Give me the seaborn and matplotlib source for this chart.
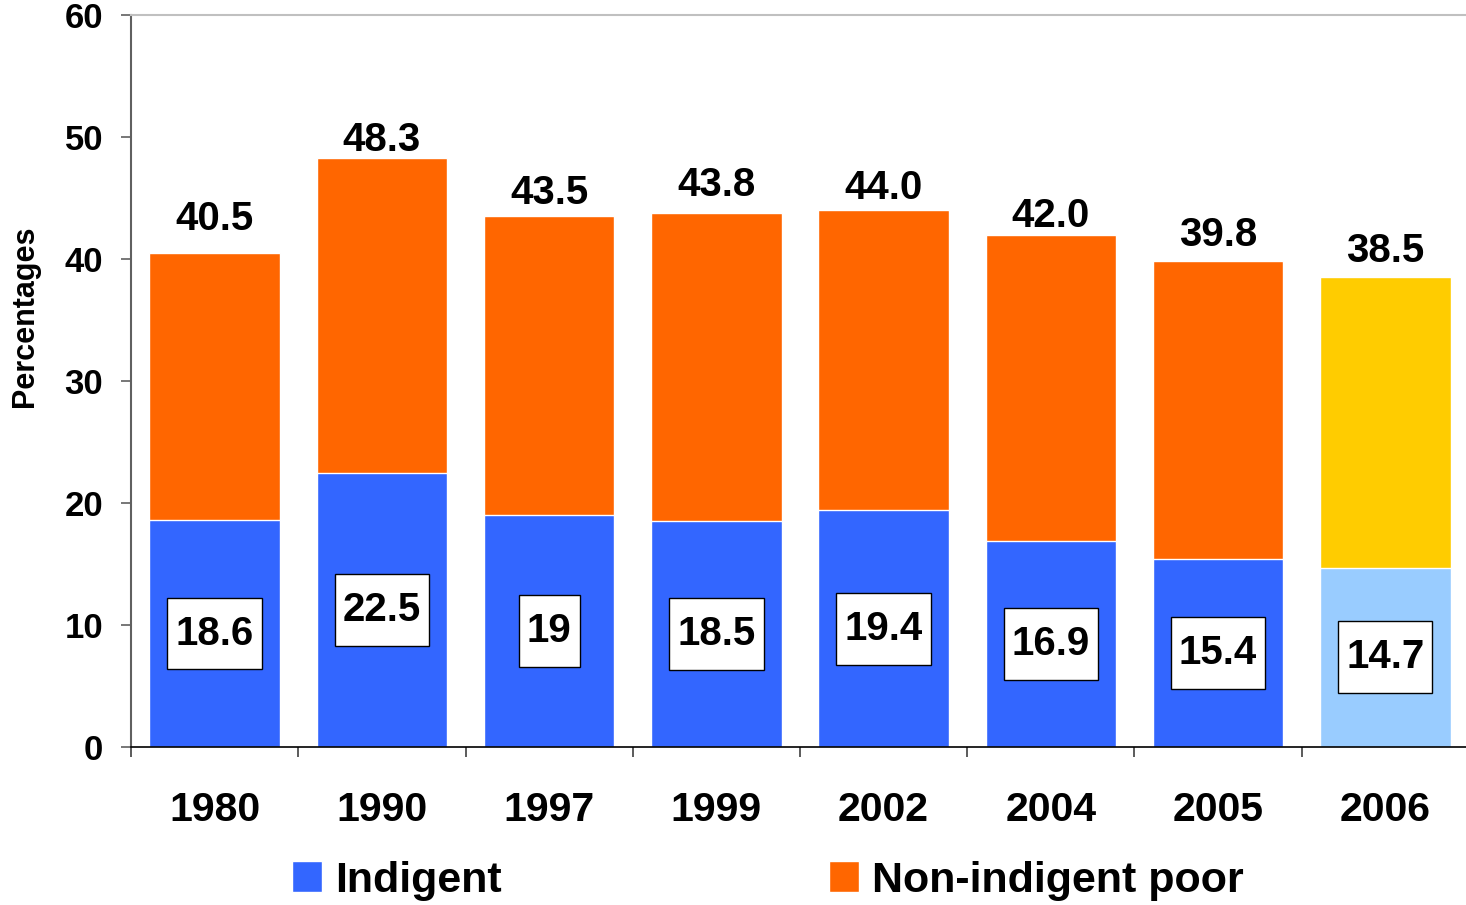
import numpy as np
import pandas as pd
import matplotlib.pyplot as plt
import seaborn as sns
from matplotlib.patches import Patch
from matplotlib.path import Path

years = ['1980', '1990', '1997', '1999', '2002', '2004', '2005', '2006']
total_poor = [40.5, 48.3, 43.5, 43.8, 44.0, 42.0, 39.8, 38.5]
indigent = [18.6, 22.5, 19.0, 18.5, 19.4, 16.9, 15.4, 14.7]
indigent_labels = ['18.6', '22.5', '19', '18.5', '19.4', '16.9', '15.4', '14.7']

# how far each total label sits above its bar (points)
total_label_offsets = [24.5, 13, 16.5, 20, 16, 13.5, 18.7, 18.7]

blue = '#3366FF'
orange = '#FF6600'
light_blue = '#99CCFF'
yellow = '#FFCC00'
top_colors = [orange] * 7 + [yellow]
bottom_colors = [blue] * 7 + [light_blue]

df = pd.DataFrame({'year': years, 'total': total_poor, 'indigent': indigent})

sns.set_style('white')
plt.rcParams['font.family'] = ['Liberation Sans', 'DejaVu Sans']
plt.rcParams['font.weight'] = 'bold'
plt.rcParams.update({'text.color': 'black', 'axes.labelcolor': 'black',
                     'xtick.labelcolor': 'black', 'ytick.labelcolor': 'black'})


def label_box(x0, y0, width, height, mutation_size):
    # white value box: narrow side padding, taller top/bottom padding
    padx = 0.2 * mutation_size
    pady = 0.42 * mutation_size
    x1, y1 = x0 + width + padx, y0 + height + pady
    x0, y0 = x0 - padx, y0 - pady
    return Path([(x0, y0), (x1, y0), (x1, y1), (x0, y1), (x0, y0)], closed=True)


fig = plt.figure(figsize=(14.66, 9.05), dpi=100)
ax = fig.add_axes([0.0894, 0.1746, 0.9126, 0.8088])

# totals first (orange part shows above), indigent drawn on top
sns.barplot(data=df, x='year', y='total', hue='year', palette=top_colors,
            width=0.78, legend=False, saturation=1, ax=ax, dodge=False)
sns.barplot(data=df, x='year', y='indigent', hue='year', palette=bottom_colors,
            width=0.78, legend=False, saturation=1, ax=ax, dodge=False)

for i, (t, ind, lab) in enumerate(zip(total_poor, indigent, indigent_labels)):
    ax.annotate('{:.1f}'.format(t), (i, t), xytext=(0, total_label_offsets[i]), textcoords='offset points',
                ha='center', va='center', fontsize=29, fontweight='bold')
    ax.text(i, ind / 2, lab, ha='center', va='center', fontsize=29, fontweight='bold',
            bbox=dict(boxstyle=label_box, facecolor='white', edgecolor='black', linewidth=1))

ax.set_ylim(0, 60)
ax.set_xlim(-0.5, 7.5)
ax.set_yticks(range(0, 61, 10))
ax.set_yticklabels([str(v) for v in range(0, 61, 10)], fontsize=25, fontweight='bold')
ax.tick_params(axis='y', left=True, length=7, width=1.2, color='#606060', pad=13)
ax.set_xticks(range(len(years)))
ax.set_xticklabels(years, fontsize=29.5, fontweight='bold')
ax.set_xticks(np.arange(-0.5, 8, 1), minor=True)
ax.tick_params(axis='x', which='major', length=0, pad=32)
ax.tick_params(axis='x', which='minor', bottom=True, length=7, width=1.2, color='#404040')
ax.set_xlabel('')
ax.set_ylabel('Percentages', fontsize=22, fontweight='bold')
ax.yaxis.set_label_coords(-0.068, 0.589)

for s in ['left', 'bottom', 'top']:
    ax.spines[s].set_visible(True)
ax.spines['left'].set_color('#606060')
ax.spines['left'].set_linewidth(1.5)
ax.spines['bottom'].set_color('black')
ax.spines['bottom'].set_linewidth(1.2)
ax.spines['top'].set_color('#C0C0C0')
ax.spines['top'].set_linewidth(1.5)
ax.spines['right'].set_visible(False)

handles = [Patch(facecolor=blue), Patch(facecolor=orange)]
fig.legend(handles, ['Indigent', 'Non-indigent poor'], loc='center', bbox_to_anchor=(0.524, 0.027),
           ncol=2, frameon=False, prop={'size': 31, 'weight': 'bold'},
           handlelength=0.7, handleheight=0.7, columnspacing=7.6, handletextpad=0.3)

fig.savefig('out.png', dpi=100)
